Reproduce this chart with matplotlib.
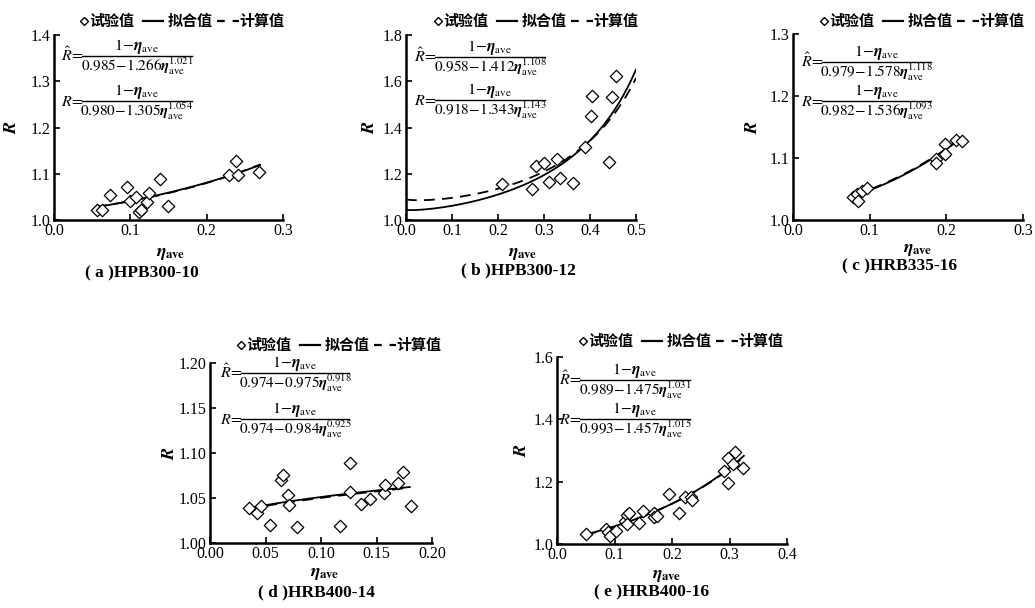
import numpy as np
import matplotlib
matplotlib.use("Agg")
import matplotlib.pyplot as plt
from matplotlib.lines import Line2D

plt.rcParams['font.family'] = ['Liberation Serif', 'Noto Sans CJK SC']
plt.rcParams['mathtext.fontset'] = 'stix'

# ---------------- data ----------------
titles = ["( a )HPB300-10", "( b )HPB300-12", "( c )HRB335-16", "( d )HRB400-14", "( e )HRB400-16"]
legend_labels = ['试验值', '拟合值', '计算值']

eta_a = [0.056, 0.0625, 0.073, 0.095, 0.099, 0.108, 0.112, 0.114, 0.122, 0.125, 0.139, 0.149, 0.229, 0.239, 0.241, 0.268]
R_a = [1.022, 1.022, 1.054, 1.071, 1.042, 1.050, 1.017, 1.022, 1.040, 1.058, 1.088, 1.030, 1.097, 1.128, 1.098, 1.103]

eta_b = [0.208, 0.274, 0.283, 0.299, 0.310, 0.329, 0.334, 0.364, 0.389, 0.402, 0.404, 0.442, 0.448, 0.457]
R_b = [1.154, 1.133, 1.235, 1.248, 1.166, 1.264, 1.183, 1.161, 1.317, 1.450, 1.536, 1.251, 1.532, 1.623]

eta_c = [0.078, 0.083, 0.085, 0.090, 0.096, 0.186, 0.187, 0.198, 0.198, 0.212, 0.221]
R_c = [1.037, 1.042, 1.031, 1.046, 1.051, 1.099, 1.092, 1.123, 1.107, 1.129, 1.127]

eta_d = [0.035, 0.042, 0.046, 0.054, 0.064, 0.066, 0.070, 0.071, 0.078, 0.117, 0.126, 0.126,
         0.136, 0.144, 0.157, 0.158, 0.169, 0.174, 0.181]
R_d = [1.039, 1.033, 1.041, 1.020, 1.070, 1.076, 1.053, 1.042, 1.018, 1.019, 1.089, 1.057,
       1.043, 1.049, 1.056, 1.065, 1.067, 1.079, 1.041]

eta_e = [0.051, 0.086, 0.088, 0.092, 0.103, 0.119, 0.121, 0.122, 0.126, 0.143, 0.150, 0.169, 0.169,
         0.174, 0.194, 0.212, 0.222, 0.233, 0.235, 0.290, 0.297, 0.298, 0.306, 0.310, 0.324]
R_e = [1.032, 1.047, 1.039, 1.026, 1.043, 1.074, 1.093, 1.064, 1.099, 1.066, 1.107, 1.101, 1.086,
       1.090, 1.161, 1.101, 1.152, 1.150, 1.141, 1.235, 1.275, 1.197, 1.257, 1.294, 1.243]

# formula parameters shown in the chart: (a, b, c) of (1-eta)/(a - b*eta^c)
fit_params = [(0.985, 1.266, 1.021), (0.958, 1.412, 1.108), (0.979, 1.578, 1.118),
              (0.974, 0.975, 0.918), (0.989, 1.475, 1.031)]
calc_params = [(0.980, 1.305, 1.054), (0.918, 1.343, 1.143), (0.982, 1.536, 1.093),
               (0.974, 0.984, 0.925), (0.993, 1.457, 1.015)]
curve_range = [(0.055, 0.27), (0.0, 0.5), (0.08, 0.22), (0.035, 0.18), (0.05, 0.325)]

xlims = [(0, 0.3), (0, 0.5), (0, 0.3), (0, 0.2), (0, 0.4)]
ylims = [(1.0, 1.4), (1.0, 1.8), (1.0, 1.3), (1.0, 1.2), (1.0, 1.6)]
xticks = [[0, 0.1, 0.2, 0.3], [0, 0.1, 0.2, 0.3, 0.4, 0.5], [0, 0.1, 0.2, 0.3],
          [0, 0.05, 0.10, 0.15, 0.20], [0, 0.1, 0.2, 0.3, 0.4]]
yticks = [[1.0, 1.1, 1.2, 1.3, 1.4], [1.0, 1.2, 1.4, 1.6, 1.8], [1.0, 1.1, 1.2, 1.3],
          [1.00, 1.05, 1.10, 1.15, 1.20], [1.0, 1.2, 1.4, 1.6]]
fmt_x = ['%.1f', '%.1f', '%.1f', '%.2f', '%.1f']
fmt_y = ['%.1f', '%.1f', '%.1f', '%.2f', '%.1f']

etas = [eta_a, eta_b, eta_c, eta_d, eta_e]
Rs = [R_a, R_b, R_c, R_d, R_e]

# ---------------- layout (pixels) ----------------
W, H = 1035, 608
fig = plt.figure(figsize=(W / 100, H / 100), dpi=100)


def P(x, y):
    return x / W, 1 - y / H


boxes = [(54, 35, 283, 220), (406, 35, 636, 220), (793, 34, 1023, 220),
         (210, 363, 432, 543), (557, 357, 787, 544)]
bar_x = [(82, 192), (435, 545), (822, 931), (241, 349), (580, 690)]
bar_y = [(56, 101), (57, 100), (62, 101), (373, 419), (380, 419)]
legend_end = [(283, 21), (637, 21), (1023, 21), (440, 345), (782, 341)]
ylabel_pos = [(12, 127), (370, 127), (753, 127), (170, 453), (522, 450)]
xlabel_pos = [(171, 253), (523, 253), (918, 249), (325, 573), (667, 575)]
caption_pos = [(142, 273), (518, 270), (900, 266), (317, 592), (652, 592)]

cjk = ['Noto Sans CJK SC', 'DejaVu Sans']
fs_f = 11.0


def frac_text(a, b, c):
    return (r'$1\!-\!\boldsymbol{\eta}_{\mathrm{ave}}$',
            r'$%.3f\!-\!%.3f\boldsymbol{\eta}_{\mathrm{ave}}^{%.3f}$' % (a, b, c))


for i in range(5):
    l, t, r, b = boxes[i]
    ax = fig.add_axes([l / W, 1 - b / H, (r - l) / W, (b - t) / H])
    ax.scatter(etas[i], Rs[i], marker='D', s=40, facecolors='white', edgecolors='black',
               linewidths=0.9, zorder=3)
    x0, x1 = curve_range[i]
    xx = np.linspace(x0, x1, 200)
    a, bb, c = fit_params[i]
    ax.plot(xx, (1 - xx) / (a - bb * xx ** c), color='black', lw=1.3, zorder=2)
    a, bb, c = calc_params[i]
    ax.plot(xx, (1 - xx) / (a - bb * xx ** c), color='black', lw=1.3, ls=(0, (6, 4)), zorder=2)

    ax.set_xlim(*xlims[i])
    ax.set_ylim(*ylims[i])
    ax.set_xticks(xticks[i])
    ax.set_yticks(yticks[i])
    ax.set_xticklabels([fmt_x[i] % v for v in xticks[i]])
    ax.set_yticklabels([fmt_y[i] % v for v in yticks[i]])
    ax.tick_params(direction='in', length=4, width=1.2, labelsize=11.5, pad=2.5)
    for s in ['top', 'right']:
        ax.spines[s].set_visible(False)
    for s in ['left', 'bottom']:
        ax.spines[s].set_linewidth(1.8)

    # y label
    fig.text(*P(*ylabel_pos[i]), r'$\boldsymbol{R}$', rotation=90, ha='center', va='center',
             fontsize=13)
    # x label
    fig.text(*P(*xlabel_pos[i]), r'$\boldsymbol{\eta}_{\mathbf{ave}}$', ha='center',
             va='center', fontsize=13)
    # caption
    fig.text(*P(*caption_pos[i]), titles[i], ha='center', va='center', fontsize=12.5,
             fontweight='bold')

    # formulas
    bx0, bx1 = bar_x[i]
    bmid = (bx0 + bx1) / 2
    for k, (params, lab) in enumerate([(fit_params[i], r'$\hat{R}\!=$'),
                                       (calc_params[i], r'$R\!=$')]):
        yb = bar_y[i][k]
        num, den = frac_text(*params)
        fig.text(*P(bx0 + 1, yb + 5), lab, ha='right', va='baseline', fontsize=fs_f + 0.5)
        fig.text(*P(bmid, yb - 6), num, ha='center', va='baseline', fontsize=fs_f + 0.5)
        fig.text(*P(bmid, yb + 15), den, ha='center', va='baseline', fontsize=fs_f)
        fig.add_artist(Line2D([bx0 / W, bx1 / W], [1 - yb / H, 1 - yb / H],
                              transform=fig.transFigure, color='black', lw=1.0))

    # legend (drawn in place)
    ex, ey = legend_end[i]
    fig.add_artist(Line2D([(ex - 199) / W], [1 - ey / H], transform=fig.transFigure,
                          marker='D', ms=4.5, mfc='white', mec='black', mew=1.0, ls='none'))
    fig.text(*P(ex - 194, ey), legend_labels[0], ha='left', va='center', fontsize=10.8,
             family=cjk, fontweight='bold')
    fig.add_artist(Line2D([(ex - 140) / W, (ex - 120) / W], [1 - ey / H, 1 - ey / H],
                          transform=fig.transFigure, color='black', lw=1.6))
    fig.text(*P(ex - 115, ey), legend_labels[1], ha='left', va='center', fontsize=10.8,
             family=cjk, fontweight='bold')
    fig.add_artist(Line2D([(ex - 66) / W, (ex - 44) / W], [1 - ey / H, 1 - ey / H],
                          transform=fig.transFigure, color='black', lw=1.6,
                          ls=(0, (3.5, 3.5))))
    fig.text(*P(ex - 44, ey), legend_labels[2], ha='left', va='center', fontsize=10.8,
             family=cjk, fontweight='bold')

fig.savefig('out.png', dpi=100)
